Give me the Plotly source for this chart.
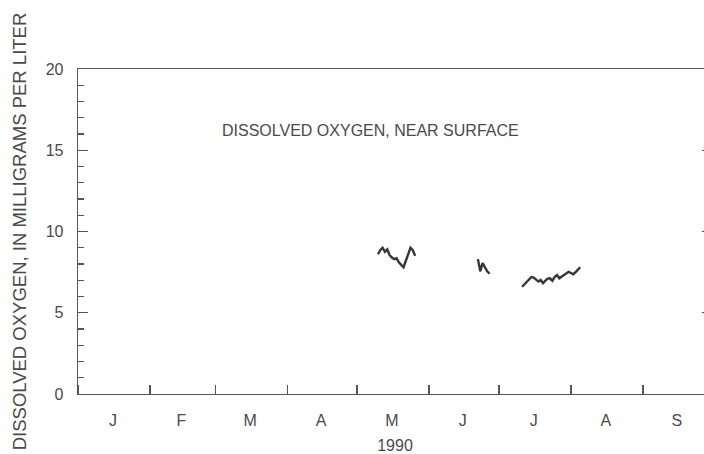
import pandas as pd
import plotly.graph_objects as go

# ---- data (daily dissolved oxygen, mg/L, near surface, 1990) ----
seg1_start = "1990-05-10"
seg1_values = [8.6, 8.85, 9.0, 8.75, 8.9, 8.55, 8.4, 8.3, 8.35, 8.1, 7.95, 7.8,
               8.2, 8.6, 9.0, 8.85, 8.5]
seg2_start = "1990-06-22"
seg2_values = [8.3, 7.55, 8.05, 7.8, 7.55, 7.4]
seg3_start = "1990-07-11"
seg3_values = [6.6, 6.75, 6.9, 7.07, 7.2, 7.17, 7.05, 6.92, 7.02, 6.82, 6.98, 7.1,
               7.12, 6.97, 7.2, 7.32, 7.12, 7.22, 7.3, 7.43, 7.52, 7.45, 7.37, 7.5,
               7.65, 7.8]

month_starts = ["1990-01-01", "1990-02-01", "1990-03-01", "1990-04-01", "1990-05-01",
                "1990-06-01", "1990-07-01", "1990-08-01", "1990-09-01"]
month_mids = ["1990-01-16", "1990-02-14 12:00", "1990-03-16", "1990-04-15 12:00",
              "1990-05-16", "1990-06-15 12:00", "1990-07-16", "1990-08-16",
              "1990-09-15 12:00"]
month_labels = ["J", "F", "M", "A", "M", "J", "J", "A", "S"]

title_text = "DISSOLVED OXYGEN, NEAR SURFACE"
y_title = "DISSOLVED OXYGEN, IN MILLIGRAMS PER LITER"
x_title = "1990"

x_all, y_all = [], []
for start, vals in [(seg1_start, seg1_values), (seg2_start, seg2_values),
                    (seg3_start, seg3_values)]:
    dates = pd.date_range(start, periods=len(vals), freq="D")
    x_all += list(dates) + [None]
    y_all += list(vals) + [None]

ink = "#363636"
axis_col = "#555555"
text_col = "#4a4a4a"
font_family = "Liberation Sans, Arial, Helvetica, sans-serif"

fig = go.Figure()
fig.add_trace(go.Scatter(x=x_all, y=y_all, mode="lines",
                         line=dict(color=ink, width=2.4), connectgaps=False,
                         showlegend=False, hoverinfo="skip"))

# the original figure is cropped on the right: the frame continues just past the edge
fig.update_layout(
    width=712, height=454,
    margin=dict(l=78, r=0, t=69, b=60, autoexpand=False),
    paper_bgcolor="white", plot_bgcolor="white",
    font=dict(family=font_family, color=text_col, size=16),
    xaxis=dict(
        type="date",
        range=["1990-01-01", "1990-09-30 16:00"],
        tickmode="array", tickvals=month_mids, ticktext=month_labels,
        ticks="", showgrid=False, zeroline=False,
        showline=True, linecolor=axis_col, linewidth=1.3, mirror=True,
        tickfont=dict(size=16), ticklabelstandoff=11,
        minor=dict(tickmode="array", tickvals=month_starts, ticks="inside",
                   ticklen=9, tickwidth=1.3, tickcolor=axis_col, showgrid=False),
        title=dict(text=x_title, font=dict(size=16), standoff=15),
        automargin=False,
    ),
    yaxis=dict(
        range=[0, 20], tickmode="linear", tick0=0, dtick=5,
        ticks="inside", ticklen=10, tickwidth=1.3, tickcolor=axis_col,
        showgrid=False, zeroline=False,
        showline=True, linecolor=axis_col, linewidth=1.3, mirror="allticks",
        tickfont=dict(size=16), ticklabelstandoff=10,
        minor=dict(dtick=1, ticks="inside", ticklen=6, tickwidth=1.1,
                   tickcolor=axis_col, showgrid=False),
        title=dict(text=y_title, font=dict(size=18.5), standoff=14),
        automargin=False,
    ),
    annotations=[dict(text=title_text, xref="paper", yref="paper",
                      x=0.462, y=0.812, xanchor="center", yanchor="middle",
                      showarrow=False, font=dict(size=16, color=text_col))],
)

fig.write_html(
    "out.html",
    config=dict(displayModeBar=False, staticPlot=True),
    post_script="document.documentElement.style.overflow='hidden';"
                "document.body.style.margin='0';document.body.style.overflow='hidden';",
)
